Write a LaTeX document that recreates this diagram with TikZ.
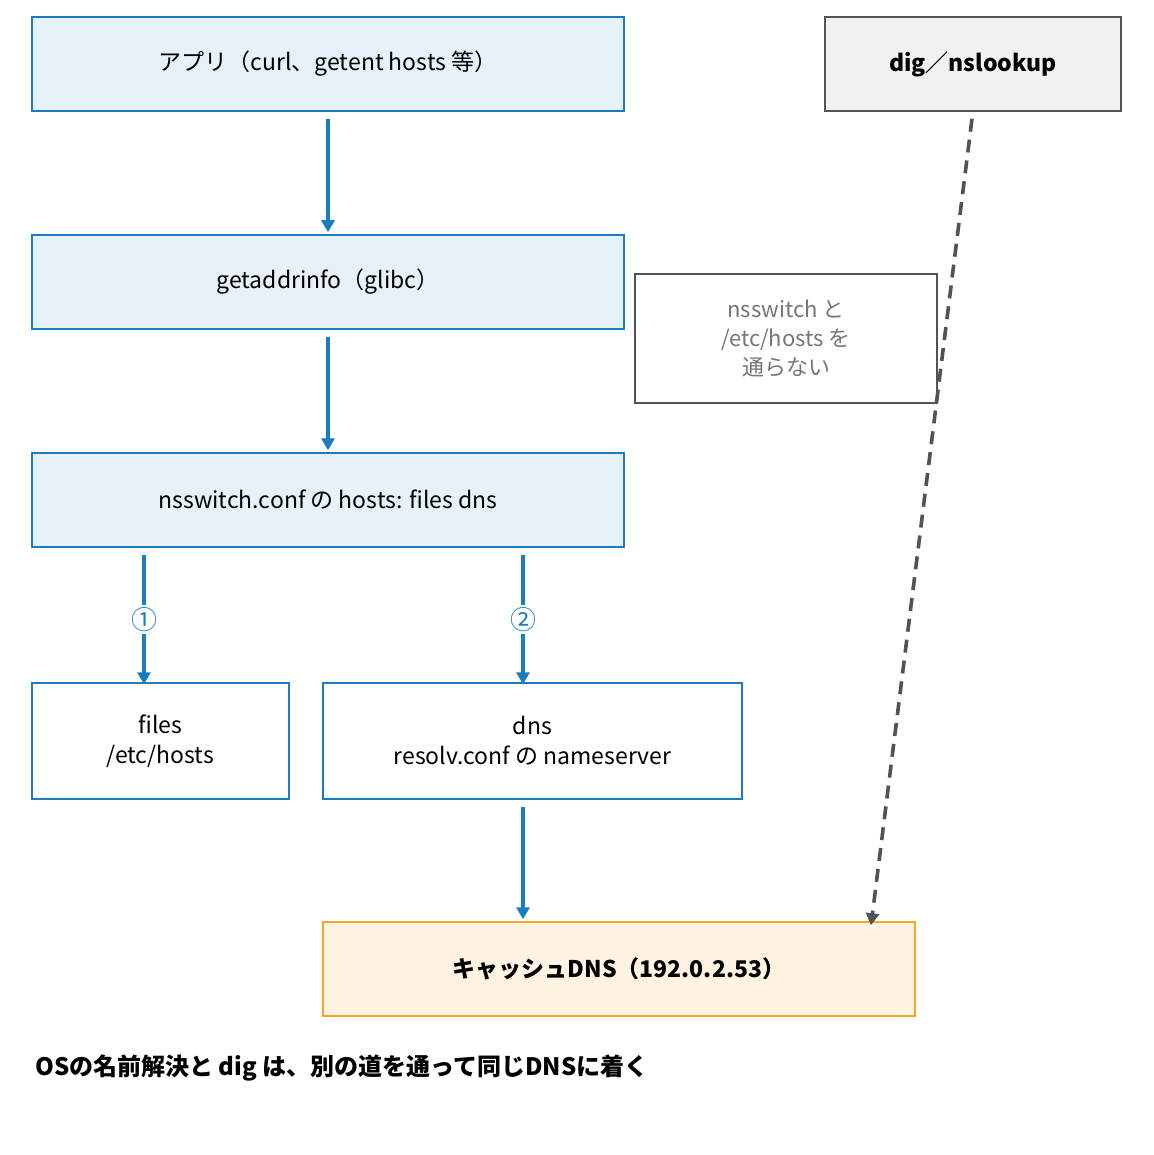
\documentclass[tikz,border=0pt]{standalone}
\usepackage{fontspec}
\setmainfont{Noto Sans CJK JP}
\usetikzlibrary{arrows.meta}
\definecolor{bl}{HTML}{1A7DBF}
\definecolor{blfill}{HTML}{E6F1F8}
\definecolor{gr}{HTML}{50545A}
\definecolor{or}{HTML}{F5A623}
\definecolor{orfill}{HTML}{FFF3E3}
\definecolor{grfill}{HTML}{F0F2F2}
\tikzset{
 box/.style={draw=bl, line width=1.5pt, inner sep=0pt, align=center, font=\fontsize{23}{30}\selectfont},
 arr/.style={draw=bl, line width=3.6pt, -{Triangle[length=12pt,width=13pt]}},
 lbl/.style={fill=white, text=bl, font=\fontsize{26}{28}\selectfont, inner sep=2pt}
}
\begin{document}
\begin{tikzpicture}[x=1pt,y=-1pt]
\useasboundingbox[fill=white] (0,0) rectangle (1153,1155);
\node[box, fill=blfill, minimum width=592pt, minimum height=94pt] (app) at (328,64) {\raisebox{-3pt}{アプリ（curl、getent hosts 等）}};
\node[box, fill=blfill, minimum width=592pt, minimum height=94pt] (gai) at (328,282) {\raisebox{-3pt}{getaddrinfo（glibc）}};
\node[box, fill=blfill, minimum width=592pt, minimum height=94pt] (nss) at (328,500) {\raisebox{-3pt}{nsswitch.conf の hosts: files dns}};
\node[box, fill=white, minimum width=257pt, minimum height=116pt] (files) at (160.5,741) {files\\/etc/hosts};
\node[box, fill=white, minimum width=419pt, minimum height=116pt] (dns) at (532.5,741) {dns\\resolv.conf の nameserver};
\node[box, draw=or, fill=orfill, minimum width=592pt, minimum height=94pt, font=\fontsize{23}{30}\selectfont\bfseries] (cache) at (619,969) {\raisebox{-3pt}{キャッシュDNS（192.0.2.53）}};
\node[box, draw=gr, fill=grfill, minimum width=296pt, minimum height=94pt, font=\fontsize{23}{30}\selectfont\bfseries] (dig) at (973,64) {\raisebox{-3pt}{dig／nslookup}};
\node[box, draw=gr, fill=white, text=gr!80, minimum width=302pt, minimum height=129pt, font=\fontsize{22}{29}\selectfont] (note) at (786,338.5) {nsswitch と\\/etc/hosts を\\通らない};
\draw[arr] ([yshift=-7pt]app.south) -- ([yshift=2pt]gai.north);
\draw[arr] ([yshift=-7pt]gai.south) -- ([yshift=2pt]nss.north);
\draw[arr] ([xshift=-184pt,yshift=-7pt]nss.south) -- node[lbl]{①} ([xshift=-16.5pt,yshift=-2pt]files.north);
\draw[arr] ([xshift=195pt,yshift=-7pt]nss.south) -- node[lbl]{②} ([xshift=-9.5pt,yshift=-2pt]dns.north);
\draw[arr] ([xshift=-9.5pt,yshift=-7pt]dns.south) -- ([xshift=-96pt,yshift=2pt]cache.north);
\draw[draw=gr, line width=3.6pt, dash pattern=on 13pt off 8pt, -{Triangle[length=12pt,width=13pt]}] ([yshift=-7pt,xshift=-1pt]dig.south) -- ([xshift=252pt,yshift=-4pt]cache.north);
\node[anchor=west, font=\fontsize{24}{28}\selectfont\bfseries, inner sep=0pt] (cap) at (35,1068) {OSの名前解決と dig は、別の道を通って同じDNSに着く};
\end{tikzpicture}
\end{document}
